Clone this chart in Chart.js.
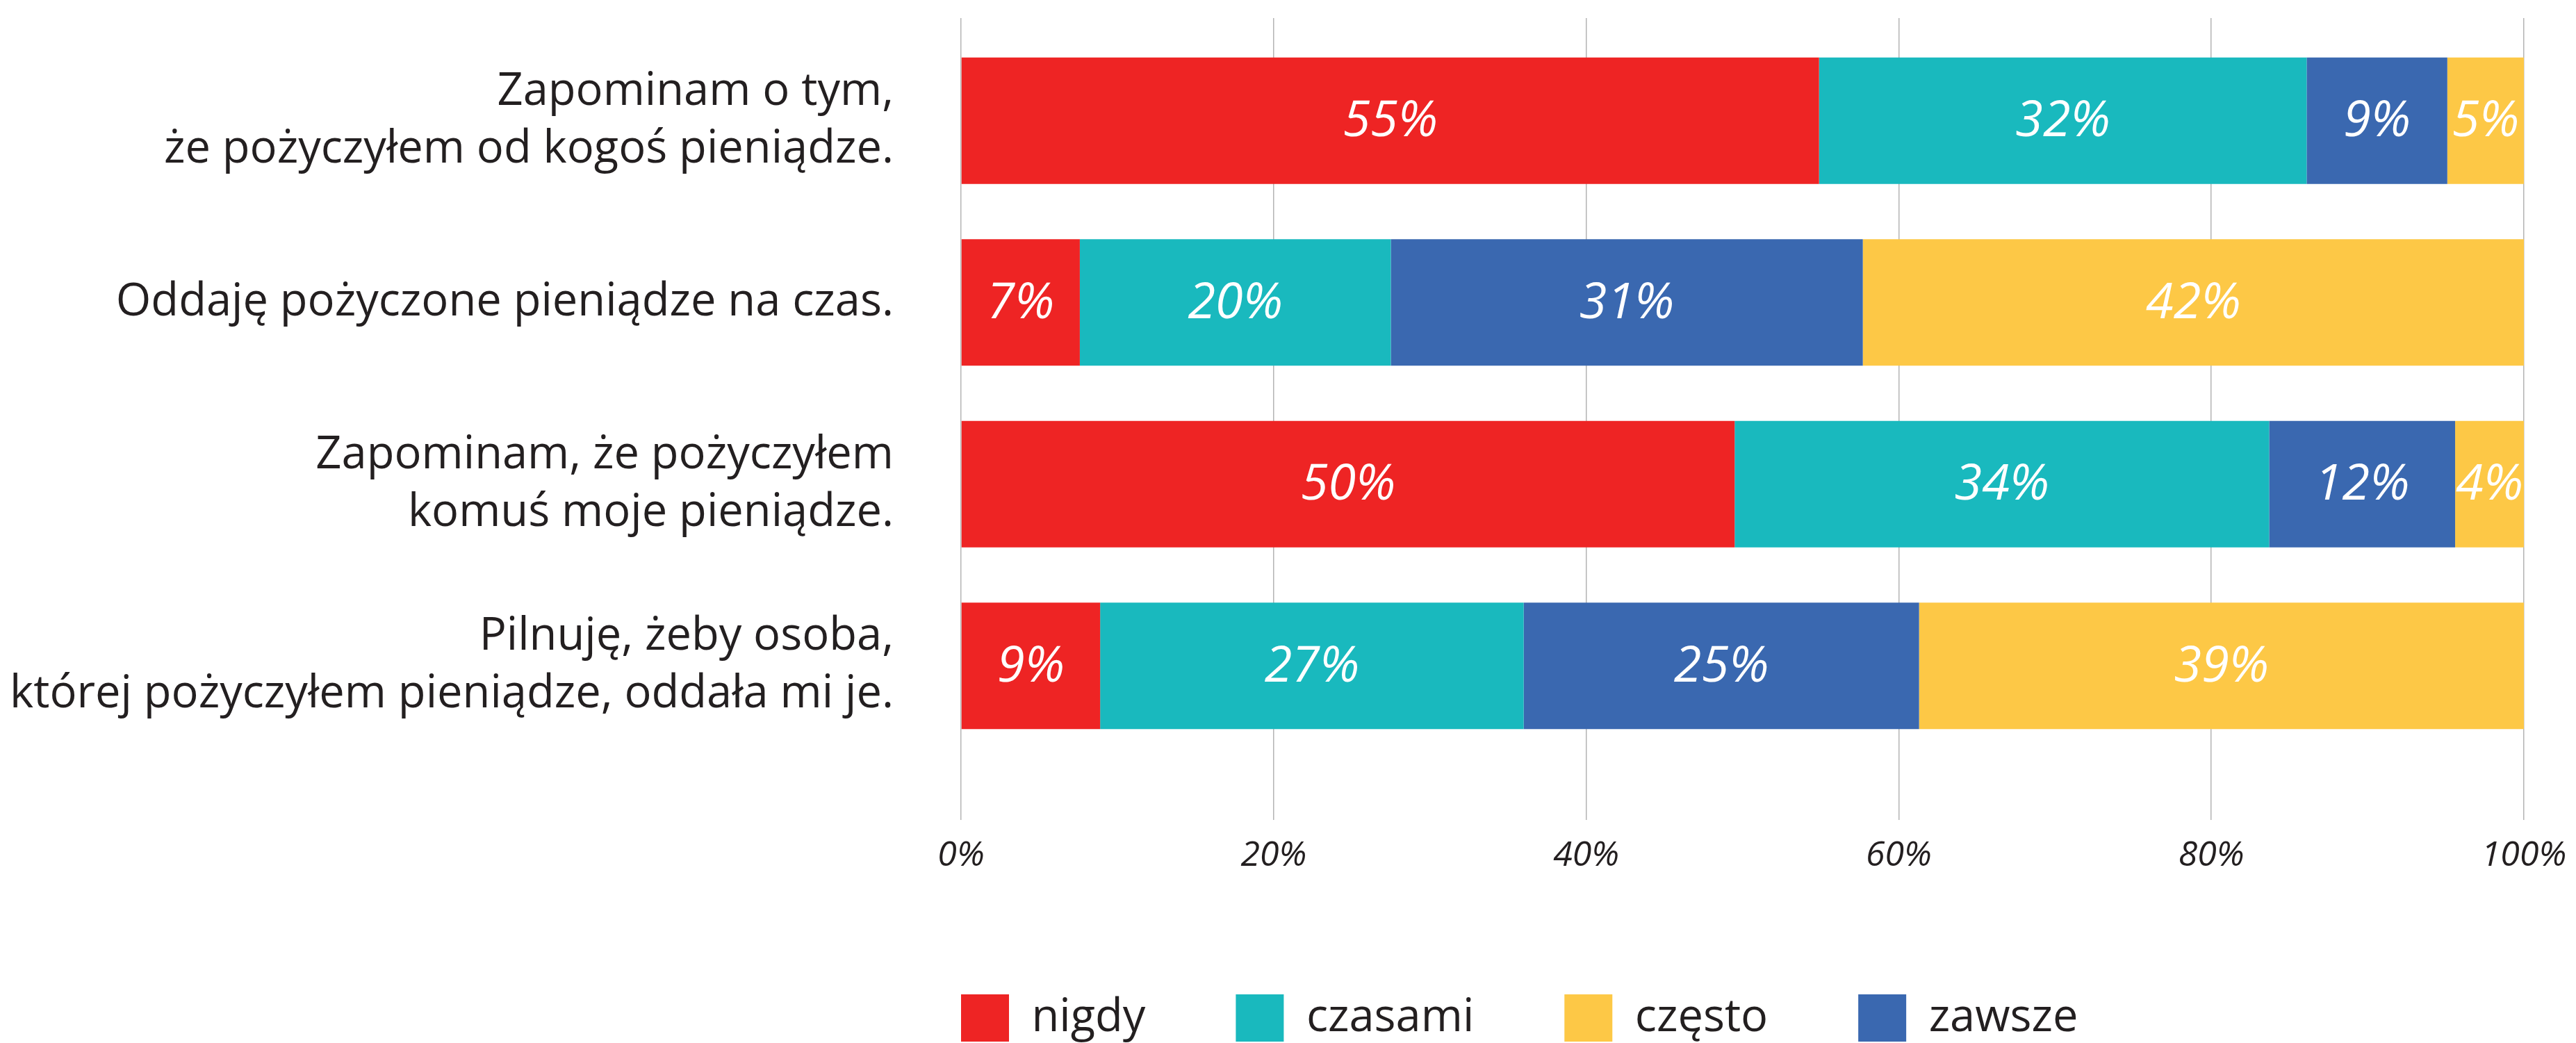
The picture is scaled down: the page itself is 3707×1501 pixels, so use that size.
<!DOCTYPE html>
<html lang="pl">
<head>
<meta charset="utf-8">
<script src="https://cdn.jsdelivr.net/npm/chart.js@4.4.1/dist/chart.umd.min.js"></script>
<style>
    html, body { margin: 0; padding: 0; background: #fff; }
    #wrap { position: relative; width: 3707px; height: 1501px; }
</style>
</head>
<body>
<div id="wrap"><canvas id="chart"></canvas></div>
<script>
const categories = [
    ['Zapominam o tym,', 'że pożyczyłem od kogoś pieniądze.'],
    'Oddaję pożyczone pieniądze na czas.',
    ['Zapominam, że pożyczyłem', 'komuś moje pieniądze.'],
    ['Pilnuję, żeby osoba,', 'której pożyczyłem pieniądze, oddała mi je.']
];
// bar lengths (% of answers)
const nigdy   = [54.9, 7.6, 49.5, 8.9];
const czasami = [31.2, 19.9, 34.2, 27.1];
const zawsze  = [9.0, 30.2, 11.9, 25.3];
const czesto  = [4.9, 42.3, 4.4, 38.7];
// percentages printed on the bars
const nigdyTxt   = [55, 7, 50, 9];
const czasamiTxt = [32, 20, 34, 27];
const zawszeTxt  = [9, 31, 12, 25];
const czestoTxt  = [5, 42, 4, 39];
const xTicks = [0, 20, 40, 60, 80, 100];
const legendOrder = ['nigdy', 'czasami', 'często', 'zawsze'];

const gridColor = '#b4b4b4';
const textColor = '#231f20';

Chart.defaults.font.family = '"Open Sans", "Noto Sans", sans-serif';
Chart.defaults.color = textColor;

// white percentages in the middle of each segment
const barLabels = {
    id: 'barLabels',
    afterDatasetsDraw(chart) {
        const ctx = chart.ctx;
        ctx.save();
        ctx.font = 'italic 72px "Open Sans", "Noto Sans", sans-serif';
        ctx.fillStyle = '#ffffff';
        ctx.textAlign = 'center';
        ctx.textBaseline = 'middle';
        chart.data.datasets.forEach((ds, i) => {
            chart.getDatasetMeta(i).data.forEach((bar, j) => {
                ctx.fillText(ds.printed[j] + '%', (bar.x + bar.base) / 2, bar.y + 2);
            });
        });
        ctx.restore();
    }
};

// legend starts under the left edge of the plot, not at the canvas edge
const legendUnderPlot = {
    id: 'legendUnderPlot',
    afterLayout(chart) {
        const lg = chart.legend;
        lg.left = chart.chartArea.left - lg.options.labels.padding;
    }
};

function setTicks(scale) {
    scale.ticks = xTicks.map(v => ({ value: v }));
}

new Chart(document.getElementById('chart'), {
    type: 'bar',
    data: {
        labels: categories,
        datasets: [
            { label: 'nigdy', data: nigdy, printed: nigdyTxt, backgroundColor: '#EE2424' },
            { label: 'czasami', data: czasami, printed: czasamiTxt, backgroundColor: '#19B9BE' },
            { label: 'zawsze', data: zawsze, printed: zawszeTxt, backgroundColor: '#3A68B0' },
            { label: 'często', data: czesto, printed: czestoTxt, backgroundColor: '#FDC846' }
        ]
    },
    options: {
        indexAxis: 'y',
        responsive: true,
        maintainAspectRatio: false,
        animation: false,
        layout: { padding: { left: 0, right: 75, top: 26, bottom: -8 } },
        datasets: { bar: { categoryPercentage: 1, barPercentage: 0.696, borderWidth: 0 } },
        scales: {
            x: {
                stacked: true,
                min: 0,
                max: 100,
                afterBuildTicks: setTicks,
                afterFit: (axis) => {
                    axis.height = 212;
                    axis.paddingLeft = 0;
                    axis.paddingRight = 0;
                },
                border: { display: false },
                grid: { color: gridColor, lineWidth: 1.5, drawTicks: true, tickLength: 91 },
                ticks: {
                    padding: 22,
                    color: textColor,
                    font: { size: 50, style: 'italic' },
                    callback: (v) => v + '%'
                }
            },
            x2: {
                type: 'linear',
                position: 'top',
                min: 0,
                max: 100,
                afterBuildTicks: setTicks,
                border: { display: false },
                grid: { color: gridColor, lineWidth: 1.5, drawOnChartArea: false, drawTicks: true, tickLength: 17 },
                ticks: { display: false }
            },
            y: {
                stacked: true,
                afterFit: (axis) => {
                    axis.width = 1383;
                    axis.paddingTop = 0;
                    axis.paddingBottom = 0;
                },
                border: { display: false },
                grid: { display: false, drawTicks: false },
                ticks: {
                    padding: 97,
                    color: textColor,
                    font: { size: 65, lineHeight: 1.28 }
                }
            }
        },
        plugins: {
            legend: {
                position: 'bottom',
                align: 'start',
                labels: {
                    boxWidth: 69,
                    boxHeight: 68,
                    padding: 130,
                    color: textColor,
                    font: { size: 65 },
                    sort: (a, b) => legendOrder.indexOf(a.text) - legendOrder.indexOf(b.text)
                }
            },
            tooltip: { enabled: false }
        }
    },
    plugins: [barLabels, legendUnderPlot]
});
</script>
</body>
</html>
